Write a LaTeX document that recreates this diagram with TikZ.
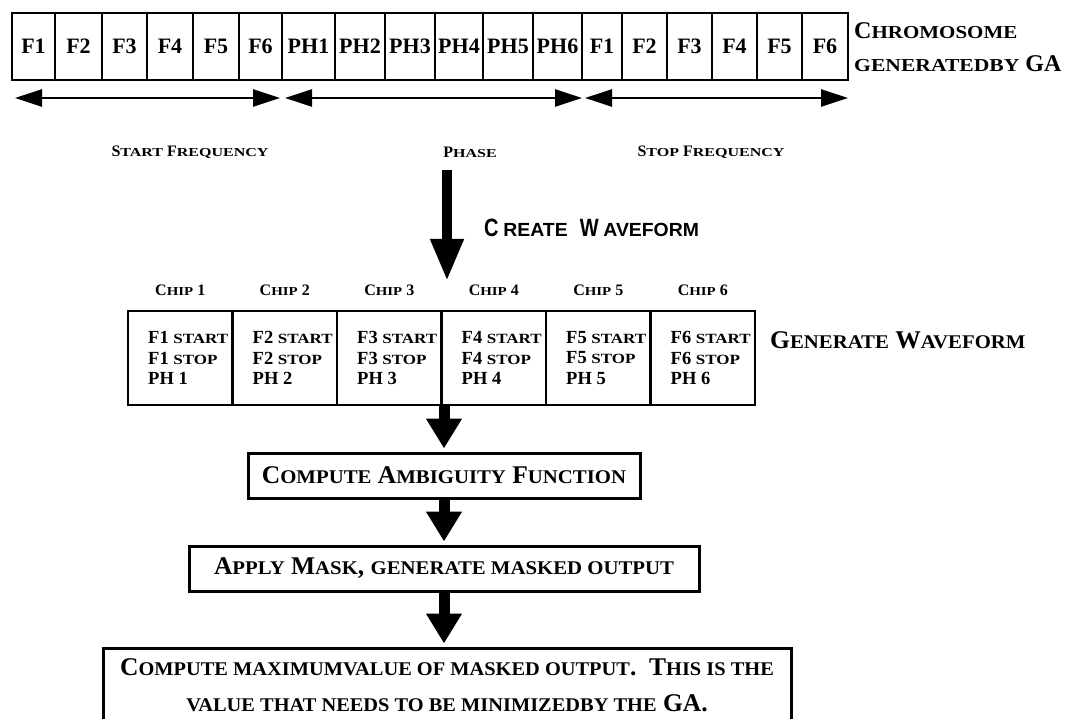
\documentclass[tikz,border=0pt]{standalone}
\usepackage{graphicx}
\usepackage{fontspec}
\setmainfont{Liberation Serif}
\newfontfamily\narrowsans{Liberation Sans}
\usetikzlibrary{arrows.meta}
% reduced capitals for the small-caps look: [horizontal factor]{text}
\newcommand\lc[2][0.815]{\scalebox{#1}[0.76]{#2}}
\newcommand\fsz[2]{\fontsize{#1}{#2}\selectfont}
\begin{document}
\begin{tikzpicture}[x=1pt,y=-1pt,
  cell/.style={draw, line width=2.6pt, minimum height=67pt, inner sep=0pt, font=\fsz{22}{26}\bfseries},
  lab/.style={inner sep=0pt, font=\fsz{16}{18}\bfseries},
  rangearrow/.style={line width=2.6pt, {Triangle[length=27pt,width=17pt]}-{Triangle[length=27pt,width=17pt]}},
  chipbox/.style={draw, line width=2.6pt, minimum width=104.5pt, minimum height=94pt, inner sep=0pt},
  chiplab/.style={inner sep=0pt, font=\fsz{16}{20}\bfseries},
  chiptext/.style={anchor=west, align=left, inner sep=0pt, font=\fsz{18.5}{20.5}\bfseries},
  box/.style={draw, line width=3pt, inner sep=0pt, font=\fsz{25.5}{30}\bfseries},
  flowarrow/.style={line width=11pt, -{Triangle[length=30pt,width=34pt]}, shorten >=3pt},
  bigarrow/.style={line width=10pt, -{Triangle[length=42pt,width=31pt]}}]
\useasboundingbox (0,0) rectangle (1074,719);
\fill[white] (0,0) rectangle (1074,719);
\clip (0,0) rectangle (1074,719);

% chromosome cells
\foreach \l/\r/\t [count=\i] in {12/55/F1,55/102/F2,102/147/F3,147/193/F4,193/239/F5,239/282/F6,
    282/335/PH1,335/385/PH2,385/435/PH3,435/483/PH4,483/533/PH5,533/582/PH6,
    582/622/F1,622/667/F2,667/712/F3,712/757/F4,757/802/F5,802/848/F6}
  \node[cell, minimum width={\r-\l}] (c\i) at ({(\l+\r)/2},46.5) {\t};

\node[anchor=west, align=left, inner sep=0pt, font=\fsz{24}{33}\bfseries] (chrom) at (854,47.5)
  {C\lc[0.875]{HROMOSOME}\\\lc[0.9]{GENERATEDBY} GA};

% gene ranges
\coordinate (r1a) at (15,98);  \coordinate (r1b) at (280,98);
\coordinate (r2a) at (285,98); \coordinate (r2b) at (582,98);
\coordinate (r3a) at (585,98); \coordinate (r3b) at (848,98);
\draw[rangearrow] (r1a) -- (r1b);
\draw[rangearrow] (r2a) -- (r2b);
\draw[rangearrow] (r3a) -- (r3b);

\node[lab] (sf) at (190,152) {S\lc[1]{TART} F\lc[1]{REQUENCY}};
\node[lab] (ph) at (470,152) {P\lc[1]{HASE}};
\node[lab] (spf) at (711,152) {S\lc[1]{TOP} F\lc[1]{REQUENCY}};

% create waveform
\coordinate (ctop) at (447,170);
\coordinate (ctip) at (447,281);
\draw[bigarrow] (ctop) -- (ctip);
\node[anchor=west, inner sep=0pt, font=\narrowsans\bfseries\fsz{25}{28}] (cw) at (484,228)
  {\scalebox{0.8}[1]{C\hspace{6pt}\lc[0.97]{REATE}\hspace{15pt}W\hspace{6pt}\lc[0.97]{AVEFORM}}};

% chips
\foreach \k in {1,...,6} {
  \node[chipbox] (chip\k) at ({128+104.5*(\k-0.5)},358) {};
  \node[chiplab] (chl\k) at ({128+104.5*(\k-0.5)},290) {C\lc[0.93]{HIP} \k};
  \node[chiptext] (cht\k) at ({128+104.5*(\k-1)+20},358)
    {F\k\ \lc[0.92]{START}\\F\k\ \lc[0.92]{STOP}\\PH \k};
}
\node[anchor=west, inner sep=0pt, font=\fsz{25.5}{30}\bfseries] (gw) at (770,340)
  {G\lc{ENERATE} W\lc{AVEFORM}};

% processing chain
\node[box, minimum width=392pt, minimum height=45pt] (amb) at (444,475.5)
  {C\lc{OMPUTE} A\lc{MBIGUITY} F\lc{UNCTION}};
\node[box, minimum width=510pt, minimum height=45pt] (app) at (444,568.5)
  {A\lc{PPLY} M\lc{ASK}, \lc{GENERATE MASKED OUTPUT}};
\node[box, minimum width=688pt, minimum height=82pt] (fin) at (447,689) {};
\node[inner sep=0pt, align=center, font=\fsz{25.5}{36}\bfseries] (fintxt) at (447,685)
  {C\lc[0.8]{OMPUTE MAXIMUMVALUE OF MASKED OUTPUT}.\ \ T\lc[0.8]{HIS IS THE}\\\lc[0.8]{VALUE THAT NEEDS TO BE MINIMIZEDBY THE} GA.};

\draw[flowarrow] (amb.north |- chip1.south) -- (amb.north);
\draw[flowarrow] (amb.south) -- (app.north -| amb.south);
\draw[flowarrow] (app.south -| amb.south) -- (fin.north -| amb.south);
\end{tikzpicture}
\end{document}
